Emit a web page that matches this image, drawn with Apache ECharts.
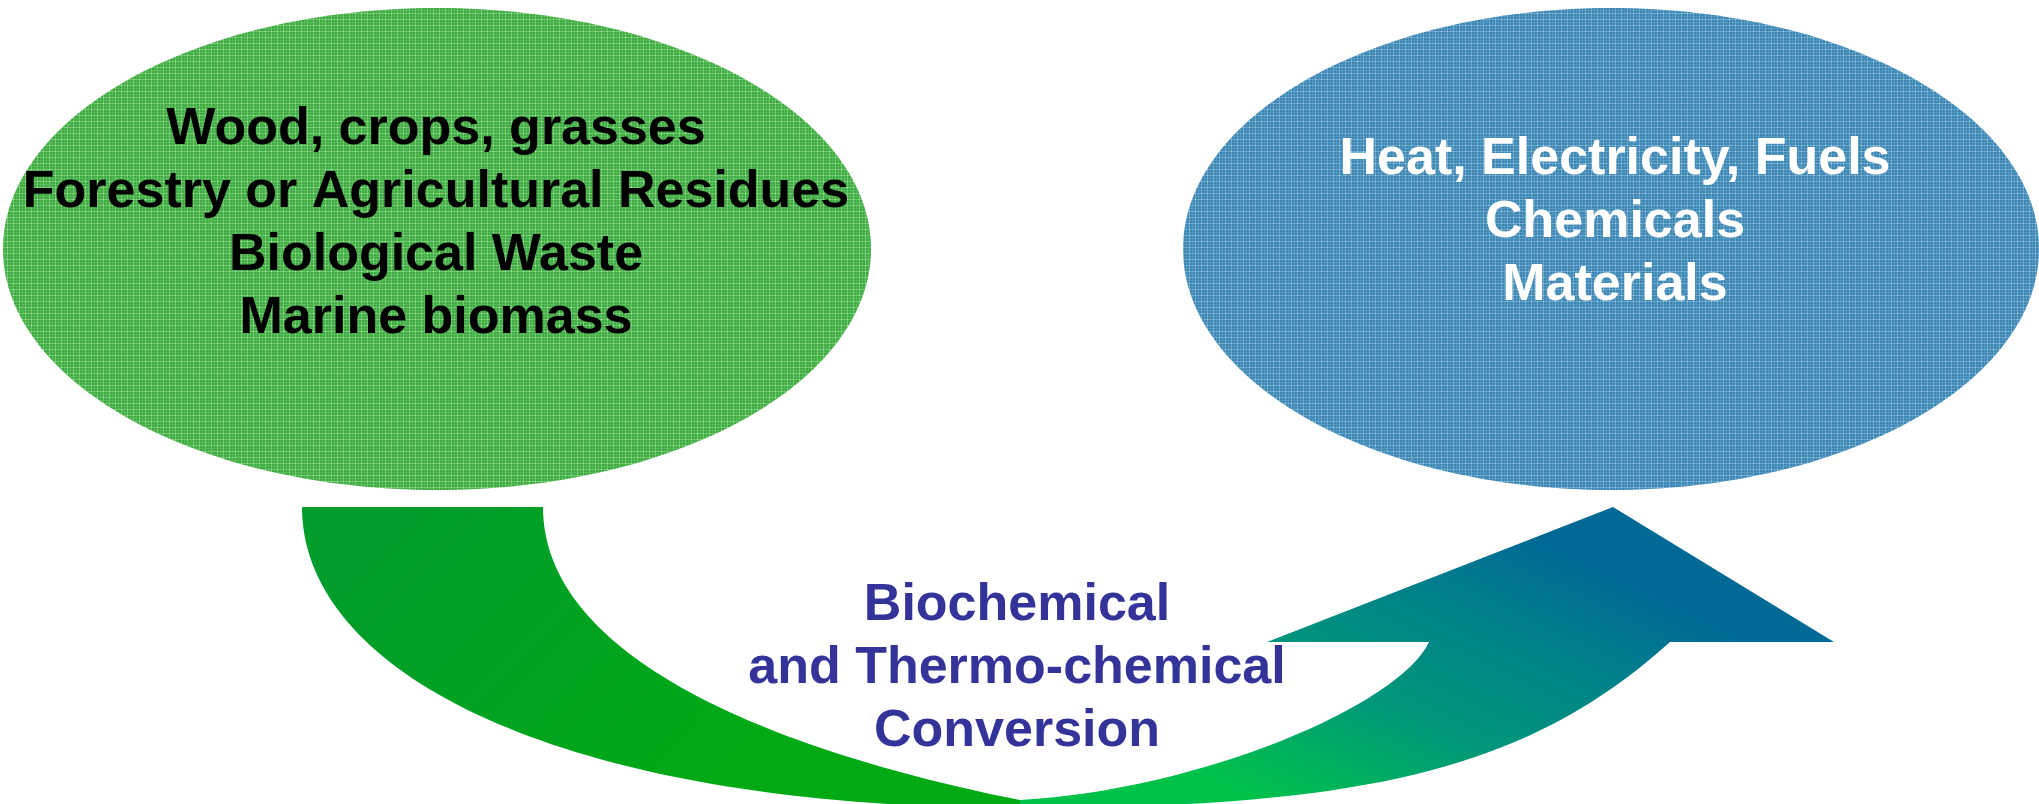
<!DOCTYPE html>
<html>
<head>
<meta charset="utf-8">
<script src="https://cdn.jsdelivr.net/npm/echarts@6/dist/echarts.min.js"></script>
<style>
html, body { margin: 0; padding: 0; background: #ffffff; }
#chart { width: 2039px; height: 804px; }
</style>
</head>
<body>
<div id="chart"></div>
<script>
// ---------------- content ----------------
const nodeNames = ['Biomass feedstocks', 'Bio-based products'];
const sourceLines = ['Wood, crops, grasses', 'Forestry or Agricultural Residues', 'Biological Waste', 'Marine biomass'];
const productLines = ['Heat, Electricity, Fuels', 'Chemicals', 'Materials'];
const processLines = ['Biochemical', 'and Thermo-chemical', 'Conversion'];

// ---------------- diagram layout (diagram units, mapped through hidden axes) ----------------
const layout = {
  nodes: [
    { cx: 437, cy: 249, rx: 434, ry: 241, tx: 436, ty: 224 },
    { cx: 1611, cy: 249, rx: 428, ry: 241, tx: 1615, ty: 223 }
  ],
  process: { tx: 1017, ty: 669 },
  // cubic bezier control points [P0, P1, P2, P3]
  leftOuter: [[302, 507], [302, 677], [570, 808], [1020, 808]],
  leftInner: [[543, 507], [543, 657], [770, 750], [1020, 800]],
  rightInner: [[1020, 800], [1200, 790], [1400, 705], [1429, 642]],
  head: [[1267, 642], [1613, 507], [1834, 642]],
  rightOuter: [[1670, 642], [1530, 768], [1370, 808], [1020, 808]]
};

const FONT = 'bold 52px "Liberation Sans", Arial, Helvetica, sans-serif';

function makePattern(base, light, mid, cross) {
  const c = document.createElement('canvas');
  c.width = 6; c.height = 6;
  const g = c.getContext('2d');
  g.fillStyle = base; g.fillRect(0, 0, 6, 6);
  g.fillStyle = mid; g.fillRect(0, 4, 6, 1); g.fillRect(4, 0, 1, 6);
  g.fillStyle = light; g.fillRect(0, 1, 6, 1); g.fillRect(1, 0, 1, 6);
  g.fillStyle = cross; g.fillRect(1, 1, 1, 1);
  return { image: c, repeat: 'repeat' };
}
const nodeFills = [
  makePattern('#3eaa42', '#72c86e', '#55b957', '#a6dea0'),
  makePattern('#3c86b4', '#6ca7cc', '#5396c0', '#a0c8e0')
];
const nodeTextColors = ['#000000', '#ffffff'];
const nodeTexts = [sourceLines, productLines];

function bez(p, start) {
  return (start ? 'M' : 'L') + p[0][0] + ' ' + p[0][1] +
    ' C' + p[1][0] + ' ' + p[1][1] + ' ' + p[2][0] + ' ' + p[2][1] + ' ' + p[3][0] + ' ' + p[3][1];
}

const chart = echarts.init(document.getElementById('chart'), null, { renderer: 'canvas' });

const option = {
  animation: false,
  backgroundColor: '#ffffff',
  grid: { left: 0, right: 0, top: 0, bottom: 0, containLabel: false },
  xAxis: { type: 'value', min: 0, max: 2039, show: false },
  yAxis: { type: 'value', min: 0, max: 804, inverse: true, show: false },
  series: [
    {
      name: 'Conversion arrow',
      type: 'custom',
      clip: false,
      silent: true,
      data: [[0]],
      renderItem: function (params, api) {
        const P = function (list) { return list.map(function (p) { return api.coord(p); }); };
        const lo = P(layout.leftOuter), li = P(layout.leftInner).reverse();
        const ri = P(layout.rightInner), hd = P(layout.head), ro = P(layout.rightOuter);
        const leftD = bez(lo, true) + ' ' + bez(li, false) + ' Z';
        const rightD = bez(ri, true) + ' L' + hd[0][0] + ' ' + hd[0][1] + ' L' + hd[1][0] + ' ' + hd[1][1] +
          ' L' + hd[2][0] + ' ' + hd[2][1] + ' ' + bez(ro, false) + ' Z';
        const lt = api.coord([400, 507]), lb = api.coord([700, 804]);
        const g1 = api.coord([1300, 820]), g2 = api.coord([1450, 500]);
        return {
          type: 'group',
          children: [
            {
              type: 'path',
              shape: { pathData: leftD },
              style: {
                fill: new echarts.graphic.LinearGradient(lt[0], lt[1], lb[0], lb[1], [
                  { offset: 0, color: '#009c2c' },
                  { offset: 1, color: '#00aa14' }
                ], true)
              }
            },
            {
              type: 'path',
              shape: { pathData: rightD },
              style: {
                fill: new echarts.graphic.LinearGradient(g1[0], g1[1], g2[0], g2[1], [
                  { offset: 0, color: '#00c24a' },
                  { offset: 0.4, color: '#00977a' },
                  { offset: 0.75, color: '#00808a' },
                  { offset: 1, color: '#006996' }
                ], true)
              }
            }
          ]
        };
      }
    },
    {
      name: 'Nodes',
      type: 'custom',
      clip: false,
      silent: true,
      data: nodeNames.map(function (n, i) { return { name: n, value: [i] }; }),
      renderItem: function (params, api) {
        const i = api.value(0);
        const nd = layout.nodes[i];
        const c = api.coord([nd.cx, nd.cy]);
        const s = api.size([nd.rx, nd.ry]);
        const t = api.coord([nd.tx, nd.ty]);
        return {
          type: 'group',
          children: [
            {
              type: 'ellipse',
              shape: { cx: c[0], cy: c[1], rx: s[0], ry: s[1] },
              style: { fill: nodeFills[i] }
            },
            {
              type: 'text',
              x: t[0], y: t[1],
              style: {
                text: nodeTexts[i].join('\n'),
                font: FONT,
                fill: nodeTextColors[i],
                align: 'center',
                verticalAlign: 'middle',
                lineHeight: 63
              }
            }
          ]
        };
      }
    },
    {
      name: 'Process',
      type: 'custom',
      clip: false,
      silent: true,
      data: [[0]],
      renderItem: function (params, api) {
        const t = api.coord([layout.process.tx, layout.process.ty]);
        return {
          type: 'text',
          x: t[0], y: t[1],
          style: {
            text: processLines.join('\n'),
            font: FONT,
            fill: '#333399',
            align: 'center',
            verticalAlign: 'middle',
            lineHeight: 63
          }
        };
      }
    }
  ]
};
chart.setOption(option);
</script>
</body>
</html>
